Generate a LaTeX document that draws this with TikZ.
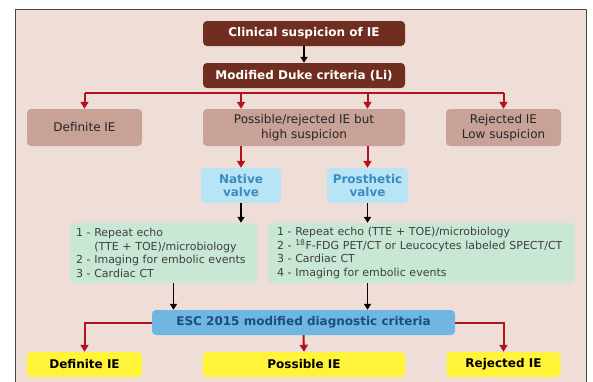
\documentclass[tikz,border=0pt]{standalone}
\usepackage{fontspec}
\setmainfont{DejaVu Sans}
\usetikzlibrary{arrows.meta,calc}
\definecolor{bgpink}{RGB}{239,222,216}
\definecolor{dukebrown}{RGB}{112,46,32}
\definecolor{rose}{RGB}{200,161,151}
\definecolor{valveblue}{RGB}{183,229,246}
\definecolor{valvetext}{RGB}{58,140,190}
\definecolor{mint}{RGB}{200,231,212}
\definecolor{escblue}{RGB}{112,182,226}
\definecolor{esctext}{RGB}{27,78,128}
\definecolor{lemon}{RGB}{255,244,58}
\definecolor{arrred}{RGB}{178,18,28}
\begin{document}
\begin{tikzpicture}[x=1pt,y=-1pt,
  box/.style={rounded corners=4pt,inner sep=0pt,align=center},
  brownbox/.style={box,fill=dukebrown,text=white,font=\fontsize{12}{14}\selectfont\bfseries,minimum width=202pt,minimum height=25pt},
  rosebox/.style={box,fill=rose,text=black!85,font=\fontsize{12}{15}\selectfont,minimum height=37pt},
  valvebox/.style={box,fill=valveblue,text=valvetext,font=\fontsize{12}{13}\selectfont\bfseries,minimum height=35pt},
  greenbox/.style={box,fill=mint,text=black!75,font=\fontsize{11}{13.7}\selectfont,align=left,minimum height=60pt,inner xsep=6pt},
  yellowbox/.style={box,fill=lemon,font=\fontsize{12}{14}\selectfont\bfseries,minimum height=25pt},
  redline/.style={draw=arrred,line width=2pt},
  redarr/.style={redline,-{Triangle[width=8pt,length=7pt]}},
  blackarr/.style={draw=black,line width=1.6pt,-{Triangle[width=7pt,length=6pt]}}]
\clip(0,0)rectangle(593,381);\fill[white](0,0)rectangle(593,381);
\draw[gray!55!black,line width=.8pt,fill=bgpink](15,9)rectangle(586,400);
\node[brownbox](clin)at(304,33.5){Clinical suspicion of IE};
\node[brownbox](duke)at(304,75.5){Modified Duke criteria (Li)};
\node[rosebox,minimum width=115pt](def1)at(84.5,127.5){Definite IE};
\node[rosebox,minimum width=202pt](poss)at(304,127.5){Possible/rejected IE but\\high suspicion};
\node[rosebox,minimum width=115pt](rej1)at(503.5,127.5){Rejected IE\\Low suspicion};
\node[valvebox,minimum width=80pt](nat)at(241,185.5){Native\\valve};
\node[valvebox,minimum width=81pt](prost)at(367.5,185.5){Prosthetic\\valve};
\node[greenbox,text width=175pt](lgreen)at(163.5,253){1 - Repeat echo\\\phantom{1 - }(TTE + TOE)/microbiology\\2 - Imaging for embolic events\\3 - Cardiac CT};
\node[greenbox,inner xsep=9pt,text width=289pt](rgreen)at(421.5,253){1 - Repeat echo (TTE + TOE)/microbiology\\2 - \textsuperscript{18}F-FDG PET/CT or Leucocytes labeled SPECT/CT\\3 - Cardiac CT\\4 - Imaging for embolic events};
\node[box,fill=escblue,text=esctext,font=\fontsize{12}{14}\selectfont\bfseries,minimum width=303pt,minimum height=25pt](esc)at(303.5,322.5){ESC 2015 modified diagnostic criteria};
\node[yellowbox,minimum width=115pt](def2)at(84.5,364.5){Definite IE};
\node[yellowbox,minimum width=202pt](poss2)at(304,364.5){Possible IE};
\node[yellowbox,minimum width=114pt](rej2)at(503.5,364.5){Rejected IE};
\coordinate(bar)at(304,93);
\draw[blackarr](clin)--(duke);
\draw[redline](def1.north|-bar)--(rej1.north|-bar);
\draw[redarr](def1.north|-bar)--(def1.north);\draw[redarr](nat.north|-bar)--(nat.north|-poss.north);\draw[redarr](prost.north|-bar)--(prost.north|-poss.north);\draw[redarr](rej1.north|-bar)--(rej1.north);
\draw[redarr](nat.north|-poss.south)--(nat.north);\draw[redarr](prost.north|-poss.south)--(prost.north);
\draw[blackarr](nat.south)--(nat.south|-lgreen.north);\draw[blackarr](prost.south)--(prost.south|-rgreen.north);
\draw[blackarr]($(lgreen.south)+(10,0)$)--($(lgreen.south|-esc.north)+(10,0)$);\draw[blackarr](prost.south|-rgreen.south)--(prost.south|-esc.north);
\draw[redarr](esc.west)-|(def2.north);\draw[redarr](esc.south)--(poss2.north);\draw[redarr](esc.east)-|(rej2.north);
\end{tikzpicture}
\end{document}
